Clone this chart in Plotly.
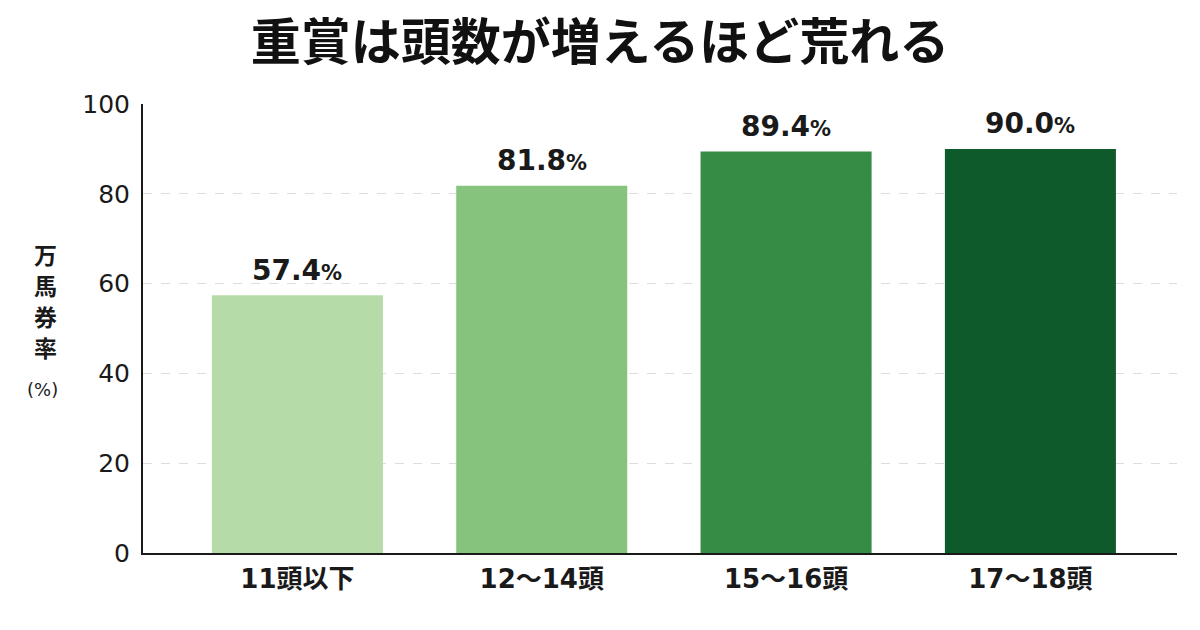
import plotly.graph_objects as go

categories = ["11頭以下", "12～14頭", "15～16頭", "17～18頭"]
values = [57.4, 81.8, 89.4, 90.0]
colors = ["#b5dca8", "#86c47e", "#368b45", "#0f5a2b"]
yticks = [0, 20, 40, 60, 80, 100]
ytitle_chars = ["万", "馬", "券", "率"]

FONT = "DejaVu Sans, Noto Sans CJK JP"
CJK = "Noto Sans CJK JP"
xpos = list(range(len(categories)))

fig = go.Figure()
fig.add_trace(go.Bar(
    x=xpos, y=values, width=0.70,
    marker=dict(color=colors, line=dict(width=0)),
    hoverinfo="skip",
))

for xi, v in zip(xpos, values):
    fig.add_annotation(
        x=xi, y=v, yshift=25, showarrow=False,
        text=f"<b>{v:.1f}<span style='font-size:21px'>%</span></b>",
        font=dict(family=FONT, size=28, color="#1a1a1a"),
        xanchor="center", yanchor="middle",
    )

# vertical stacked y-axis title, one character per annotation
title_y = [0.661, 0.592, 0.523, 0.454]
for ch, yy in zip(ytitle_chars, title_y):
    fig.add_annotation(
        xref="paper", yref="paper", x=-0.094, y=yy, showarrow=False,
        text=f"<b>{ch}</b>", borderpad=0,
        font=dict(family=FONT, size=23, color="#1a1a1a"),
        xanchor="center", yanchor="middle",
    )
fig.add_annotation(
    xref="paper", yref="paper", x=-0.097, y=0.365, showarrow=False,
    text="(%)", borderpad=0,
    font=dict(family=FONT, size=18, color="#1a1a1a"),
    xanchor="center", yanchor="middle",
)

fig.update_layout(
    width=1200, height=630,
    margin=dict(l=143, r=23, t=104, b=77),
    paper_bgcolor="white", plot_bgcolor="white",
    showlegend=False,
    title=dict(
        text="<b>重賞は頭数が増えるほど荒れる</b>",
        x=0.5, xanchor="center", y=0.933, yanchor="middle",
        font=dict(family=CJK, size=50, color="#111111"),
    ),
    xaxis=dict(
        range=[-0.632, 3.60],
        tickvals=xpos,
        ticktext=[f"<b>{c}</b>" for c in categories],
        tickfont=dict(family=FONT, size=26, color="#1a1a1a"),
        showline=True, linecolor="#1a1a1a", linewidth=2,
        ticks="", showgrid=False, zeroline=False,
        ticklabelstandoff=2,
    ),
    yaxis=dict(
        range=[0, 100],
        tickvals=yticks,
        tickfont=dict(family=FONT, size=25, color="#1a1a1a"),
        showline=True, linecolor="#1a1a1a", linewidth=2,
        ticks="", ticklabelstandoff=6,
        showgrid=True, gridcolor="#dddddd", griddash="dash", gridwidth=1,
        zeroline=False,
    ),
)

fig.write_html("out.html")
